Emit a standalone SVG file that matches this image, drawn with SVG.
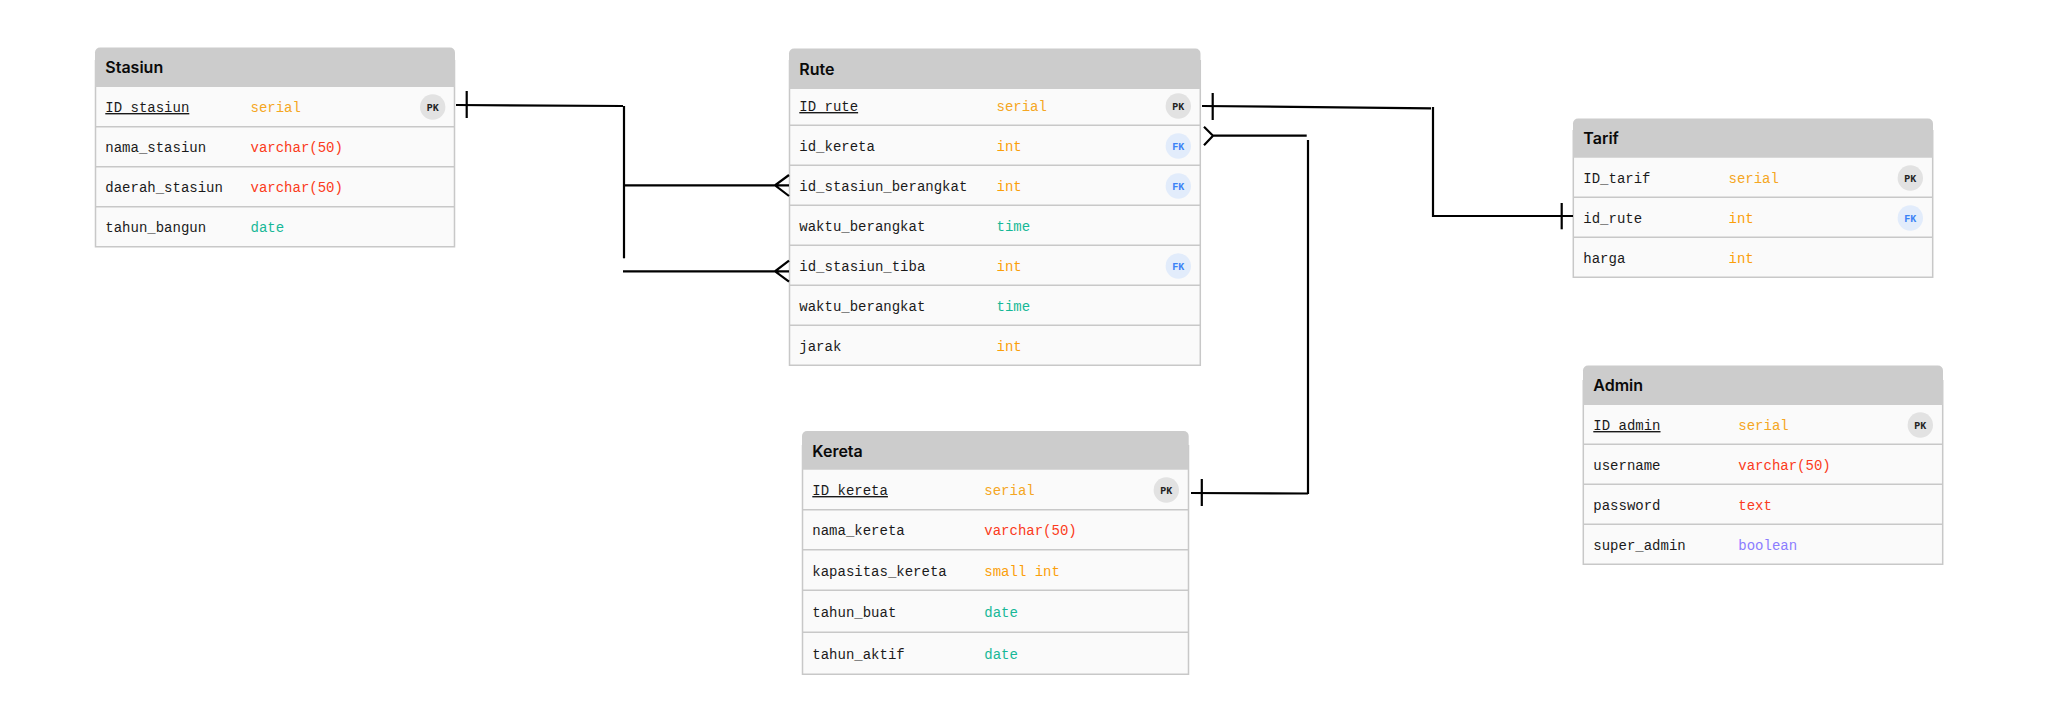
<svg xmlns="http://www.w3.org/2000/svg" width="2045" height="707" viewBox="0 0 2045 707">
<style>
.body{fill:#fafafa;stroke:#c8c8c8;stroke-width:1.5}
.head{fill:#cccccc}
.sep{stroke:#c8c8c8;stroke-width:1.5;fill:none}
.title{font-family:Inter,"Liberation Sans",sans-serif;font-weight:600;font-size:16px;fill:#0a0a0a}
.f{font-family:"Liberation Mono","DejaVu Sans Mono",monospace;font-size:14px;fill:#1a1a1a}
.pk{text-decoration:underline;text-underline-offset:3px}
.ser{fill:#f5a623}.int{fill:#fa9f0a}.var{fill:#fb3a20}.dat{fill:#17b897}.boo{fill:#8b7dff}
.bp{fill:#e2e2e2}.bf{fill:#e2ecfb}
.bt{font-family:"Liberation Mono","DejaVu Sans Mono",monospace;font-weight:700;font-size:10px;text-anchor:middle}
.tp{fill:#222}.tf{fill:#3b82f6}
.c{fill:none;stroke:#000;stroke-width:2.2}
</style>

<g id="stasiun">
<path class="body" d="M95.5 60V246.7H454.5V60"/>
<path class="head" d="M95 52.500a5 5 0 0 1 5-5h350a5 5 0 0 1 5 5V87H95Z"/>
<path class="sep" d="M95.500 126.700H454.500M95.500 166.700H454.500M95.500 206.700H454.500"/>
<text class="title" x="105.300" y="72.500">Stasiun</text>
<text class="f pk" x="105.300" y="112">ID_stasiun</text><text class="f ser" x="250.500" y="112">serial</text>
<circle class="bp" cx="432.700" cy="107" r="12.700"/><text class="bt tp" x="432.700" y="110.500">PK</text>
<text class="f" x="105.300" y="152">nama_stasiun</text><text class="f var" x="250.500" y="152">varchar(50)</text>
<text class="f" x="105.300" y="192">daerah_stasiun</text><text class="f var" x="250.500" y="192">varchar(50)</text>
<text class="f" x="105.300" y="232">tahun_bangun</text><text class="f dat" x="250.500" y="232">date</text>
</g>

<g id="rute">
<path class="body" d="M789.500 60V365.300H1200.300V60"/>
<path class="head" d="M789 53.500a5 5 0 0 1 5-5h401.500a5 5 0 0 1 5 5V89H789Z"/>
<path class="sep" d="M789.500 125.300H1200.300M789.500 165.300H1200.300M789.500 205.300H1200.300M789.500 245.300H1200.300M789.500 285.300H1200.300M789.500 325.300H1200.300"/>
<text class="title" x="799.300" y="74.500">Rute</text>
<text class="f pk" x="799.300" y="111">ID_rute</text><text class="f ser" x="996.500" y="111">serial</text>
<circle class="bp" cx="1178.300" cy="106" r="12.700"/><text class="bt tp" x="1178.300" y="109.500">PK</text>
<text class="f" x="799.300" y="151">id_kereta</text><text class="f int" x="996.500" y="151">int</text>
<circle class="bf" cx="1178.300" cy="146" r="12.700"/><text class="bt tf" x="1178.300" y="149.500">FK</text>
<text class="f" x="799.300" y="191">id_stasiun_berangkat</text><text class="f int" x="996.500" y="191">int</text>
<circle class="bf" cx="1178.300" cy="186" r="12.700"/><text class="bt tf" x="1178.300" y="189.500">FK</text>
<text class="f" x="799.300" y="231">waktu_berangkat</text><text class="f dat" x="996.500" y="231">time</text>
<text class="f" x="799.300" y="271">id_stasiun_tiba</text><text class="f int" x="996.500" y="271">int</text>
<circle class="bf" cx="1178.300" cy="266" r="12.700"/><text class="bt tf" x="1178.300" y="269.500">FK</text>
<text class="f" x="799.300" y="311">waktu_berangkat</text><text class="f dat" x="996.500" y="311">time</text>
<text class="f" x="799.300" y="351">jarak</text><text class="f int" x="996.500" y="351">int</text>
</g>

<g id="kereta">
<path class="body" d="M802.500 445V674.300H1188.500V445"/>
<path class="head" d="M802 436a5 5 0 0 1 5-5h376.700a5 5 0 0 1 5 5V469.700H802Z"/>
<path class="sep" d="M802.500 509.700H1188.500M802.500 549.700H1188.500M802.500 590.300H1188.500M802.500 632.300H1188.500"/>
<text class="title" x="812.300" y="456.500">Kereta</text>
<text class="f pk" x="812.300" y="495">ID_kereta</text><text class="f ser" x="984.300" y="495">serial</text>
<circle class="bp" cx="1166.300" cy="490" r="12.700"/><text class="bt tp" x="1166.300" y="493.500">PK</text>
<text class="f" x="812.300" y="535">nama_kereta</text><text class="f var" x="984.300" y="535">varchar(50)</text>
<text class="f" x="812.300" y="576">kapasitas_kereta</text><text class="f int" x="984.300" y="576">small int</text>
<text class="f" x="812.300" y="617">tahun_buat</text><text class="f dat" x="984.300" y="617">date</text>
<text class="f" x="812.300" y="659">tahun_aktif</text><text class="f dat" x="984.300" y="659">date</text>
</g>

<g id="tarif">
<path class="body" d="M1573.300 130V277.300H1932.700V130"/>
<path class="head" d="M1573 123.500a5 5 0 0 1 5-5h350a5 5 0 0 1 5 5V157.700H1573Z"/>
<path class="sep" d="M1573.300 197.300H1932.700M1573.300 237.300H1932.700"/>
<text class="title" x="1583.300" y="143.500">Tarif</text>
<text class="f" x="1583.300" y="183">ID_tarif</text><text class="f ser" x="1728.500" y="183">serial</text>
<circle class="bp" cx="1910.300" cy="178" r="12.700"/><text class="bt tp" x="1910.300" y="181.500">PK</text>
<text class="f" x="1583.300" y="223">id_rute</text><text class="f int" x="1728.500" y="223">int</text>
<circle class="bf" cx="1910.300" cy="218" r="12.700"/><text class="bt tf" x="1910.300" y="221.500">FK</text>
<text class="f" x="1583.300" y="263">harga</text><text class="f int" x="1728.500" y="263">int</text>
</g>

<g id="admin">
<path class="body" d="M1583.300 380V564.300H1942.700V380"/>
<path class="head" d="M1583 370.500a5 5 0 0 1 5-5h350a5 5 0 0 1 5 5V405H1583Z"/>
<path class="sep" d="M1583.300 444.300H1942.700M1583.300 484.300H1942.700M1583.300 524.300H1942.700"/>
<text class="title" x="1593.300" y="390.500">Admin</text>
<text class="f pk" x="1593.300" y="430">ID_admin</text><text class="f ser" x="1738.300" y="430">serial</text>
<circle class="bp" cx="1920.300" cy="425" r="12.700"/><text class="bt tp" x="1920.300" y="428.500">PK</text>
<text class="f" x="1593.300" y="470">username</text><text class="f var" x="1738.300" y="470">varchar(50)</text>
<text class="f" x="1593.300" y="510">password</text><text class="f var" x="1738.300" y="510">text</text>
<text class="f" x="1593.300" y="550">super_admin</text><text class="f boo" x="1738.300" y="550">boolean</text>
</g>

<g id="connectors">
<path class="c" d="M456 105L623 106"/>
<path class="c" d="M466.700 91V118"/>
<path class="c" d="M624 106V258.300"/>
<path class="c" d="M624 185.300H789M789 175L775 185.300L789 196"/>
<path class="c" d="M623 271.300H789M789 260.700L775 271.300L789 281.700"/>
<path class="c" d="M1202 106L1431 108.300"/>
<path class="c" d="M1212.700 93V120"/>
<path class="c" d="M1433 107V217"/>
<path class="c" d="M1433 216H1573"/>
<path class="c" d="M1561.700 203V229.300"/>
<path class="c" d="M1204 126.700L1213 135.700L1204 145.300M1213 135.700H1306.700"/>
<path class="c" d="M1308 140V494"/>
<path class="c" d="M1191 493L1308 493.500"/>
<path class="c" d="M1201.800 479V506"/>
</g>
</svg>
